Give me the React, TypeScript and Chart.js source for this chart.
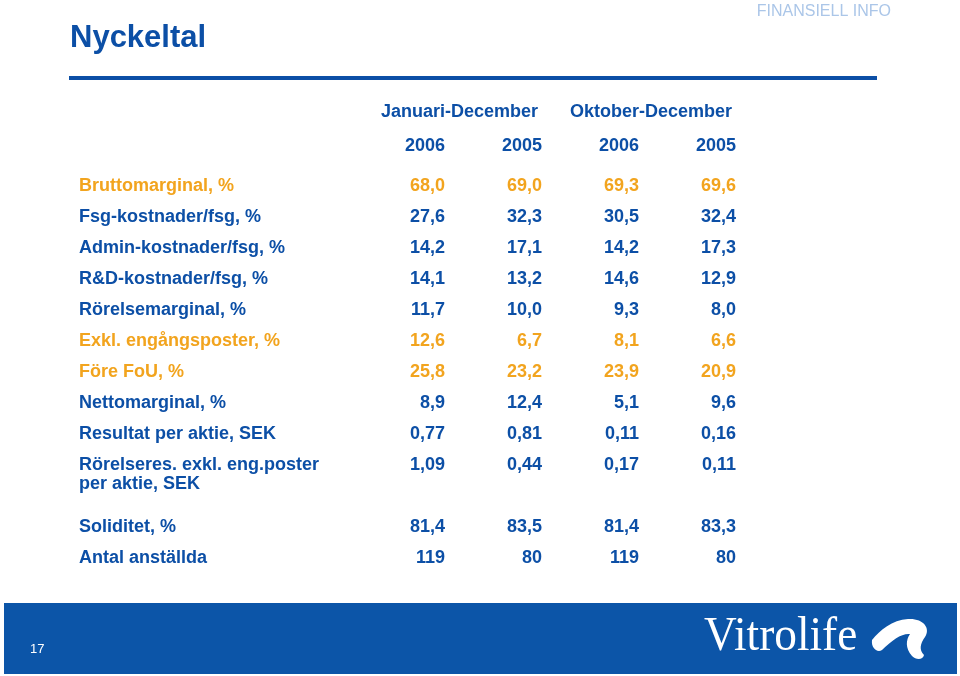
import React, { useEffect, useRef } from "react";
import { Chart, registerables } from "chart.js";

Chart.register(...registerables);

// ---- Data ----
const periods = ["Januari-December", "Oktober-December"];
const years = ["2006", "2005", "2006", "2005"];
const columnKeys = [
  "Januari-December 2006",
  "Januari-December 2005",
  "Oktober-December 2006",
  "Oktober-December 2005",
];

const rowLabels = [
  "Bruttomarginal, %",
  "Fsg-kostnader/fsg, %",
  "Admin-kostnader/fsg, %",
  "R&D-kostnader/fsg, %",
  "Rörelsemarginal, %",
  "Exkl. engångsposter, %",
  "Före FoU, %",
  "Nettomarginal, %",
  "Resultat per aktie, SEK",
  "Rörelseres. exkl. eng.poster",
  " ",
  "Soliditet, %",
  "Antal anställda",
];
const rowSubLabels = ["", "", "", "", "", "", "", "", "", "per aktie, SEK", "", "", ""];
const rowHighlight = [true, false, false, false, false, true, true, false, false, false, false, false, false];
const rowDecimals = [1, 1, 1, 1, 1, 1, 1, 1, 2, 2, 0, 1, 0];

const janDec2006 = [68.0, 27.6, 14.2, 14.1, 11.7, 12.6, 25.8, 8.9, 0.77, 1.09, null, 81.4, 119];
const janDec2005 = [69.0, 32.3, 17.1, 13.2, 10.0, 6.7, 23.2, 12.4, 0.81, 0.44, null, 83.5, 80];
const oktDec2006 = [69.3, 30.5, 14.2, 14.6, 9.3, 8.1, 23.9, 5.1, 0.11, 0.17, null, 81.4, 119];
const oktDec2005 = [69.6, 32.4, 17.3, 12.9, 8.0, 6.6, 20.9, 9.6, 0.16, 0.11, null, 83.3, 80];
const seriesValues = [janDec2006, janDec2005, oktDec2006, oktDec2005];

const pageTitle = "Nyckeltal";
const sectionLabel = "FINANSIELL INFO";
const pageNumber = "17";
const brandName = "Vitrolife";

// ---- Styles ----
const BLUE = "#0c4fa6";
const ORANGE = "#f2a41e";
const LIGHT = "#abc6e8";
const FOOTER = "#0c55a8";
const FONT = "'Liberation Sans', Arial, sans-serif";

function fmt(v: number, d: number) {
  return v.toFixed(d).replace(".", ",");
}

const tablePlugin = {
  id: "tableText",
  afterDraw(chart: any) {
    const ctx: CanvasRenderingContext2D = chart.ctx;
    const xs = chart.scales.x;
    const ys = chart.scales.y;
    ctx.save();

    // Header / decorations
    ctx.fillStyle = LIGHT;
    ctx.font = `16px ${FONT}`;
    ctx.textAlign = "right";
    ctx.textBaseline = "alphabetic";
    ctx.fillText(sectionLabel, 891, 16);

    ctx.fillStyle = BLUE;
    ctx.font = `bold 31px ${FONT}`;
    ctx.textAlign = "left";
    ctx.fillText(pageTitle, 70, 47);

    ctx.fillRect(69, 76, 808, 4);

    // footer
    ctx.fillStyle = FOOTER;
    ctx.fillRect(4, 603, 953, 71);
    ctx.fillStyle = "#ffffff";
    ctx.font = `13px ${FONT}`;
    ctx.textAlign = "left";
    ctx.fillText(pageNumber, 30, 653);

    ctx.save();
    ctx.font = `44px 'Liberation Serif', 'Times New Roman', serif`;
    ctx.translate(704, 650);
    ctx.scale(1.03, 1.1);
    ctx.fillText(brandName, 0, 0);
    ctx.restore();

    // swoosh
    ctx.beginPath();
    ctx.moveTo(872, 640);
    ctx.bezierCurveTo(880, 630, 892, 620, 908, 619);
    ctx.bezierCurveTo(923, 618, 931, 628, 925, 637);
    ctx.bezierCurveTo(920, 644, 919, 650, 924, 655);
    ctx.bezierCurveTo(923, 660, 916, 660, 912, 656);
    ctx.bezierCurveTo(905, 648, 906, 640, 910, 634);
    ctx.bezierCurveTo(902, 633, 892, 640, 882, 650);
    ctx.bezierCurveTo(877, 653, 871, 648, 872, 640);
    ctx.closePath();
    ctx.fill();

    // column headers
    const row0 = ys.getPixelForValue(0);
    ctx.font = `bold 18px ${FONT}`;
    ctx.fillStyle = BLUE;
    ctx.textBaseline = "middle";
    ctx.textAlign = "right";
    periods.forEach((p, i) => {
      const x = xs.getPixelForValue(i * 2 + 1) + 16;
      ctx.fillText(p, x, row0 - 74);
    });
    years.forEach((y, i) => {
      const x = xs.getPixelForValue(i) + 20;
      ctx.fillText(y, x, row0 - 40);
    });

    // row labels
    ctx.textAlign = "left";
    rowLabels.forEach((lab, r) => {
      const y = ys.getPixelForValue(r);
      ctx.fillStyle = rowHighlight[r] ? ORANGE : BLUE;
      ctx.fillText(lab, 79, y);
      if (rowSubLabels[r]) ctx.fillText(rowSubLabels[r], 79, y + 19);
    });

    // values
    ctx.textAlign = "right";
    chart.data.datasets.forEach((ds: any, di: number) => {
      const meta = chart.getDatasetMeta(di);
      meta.data.forEach((el: any, i: number) => {
        const pt = ds.data[i];
        const r = pt.row;
        ctx.fillStyle = rowHighlight[r] ? ORANGE : BLUE;
        ctx.fillText(fmt(pt.v, rowDecimals[r]), el.x + 20, el.y);
      });
    });
    ctx.restore();
  },
};

export default function App() {
  const ref = useRef<HTMLCanvasElement>(null);
  useEffect(() => {
    if (!ref.current) return;
    const datasets = seriesValues.map((vals, ci) => ({
      label: columnKeys[ci],
      data: vals
        .map((v, r) => (v === null ? null : { x: columnKeys[ci], y: rowLabels[r], v, row: r }))
        .filter((p) => p !== null),
      pointRadius: 0,
      pointHoverRadius: 0,
      showLine: false,
    }));
    const chart = new Chart(ref.current, {
      type: "scatter",
      data: { datasets: datasets as any },
      options: {
        responsive: false,
        animation: false,
        events: [],
        layout: { padding: { left: 376.5, right: 195.5, top: 186, bottom: 118 } },
        plugins: { legend: { display: false }, tooltip: { enabled: false } },
        scales: {
          x: { type: "category", labels: columnKeys, offset: true, display: false },
          y: { type: "category", labels: rowLabels, offset: false, display: false },
        },
      },
      plugins: [tablePlugin],
    });
    return () => chart.destroy();
  }, []);
  return (
    <div style={{ position: "fixed", left: 0, top: 0, width: 960, height: 676, background: "#fff" }}>
      <canvas ref={ref} width={960} height={676} style={{ width: 960, height: 676 }} />
    </div>
  );
}
